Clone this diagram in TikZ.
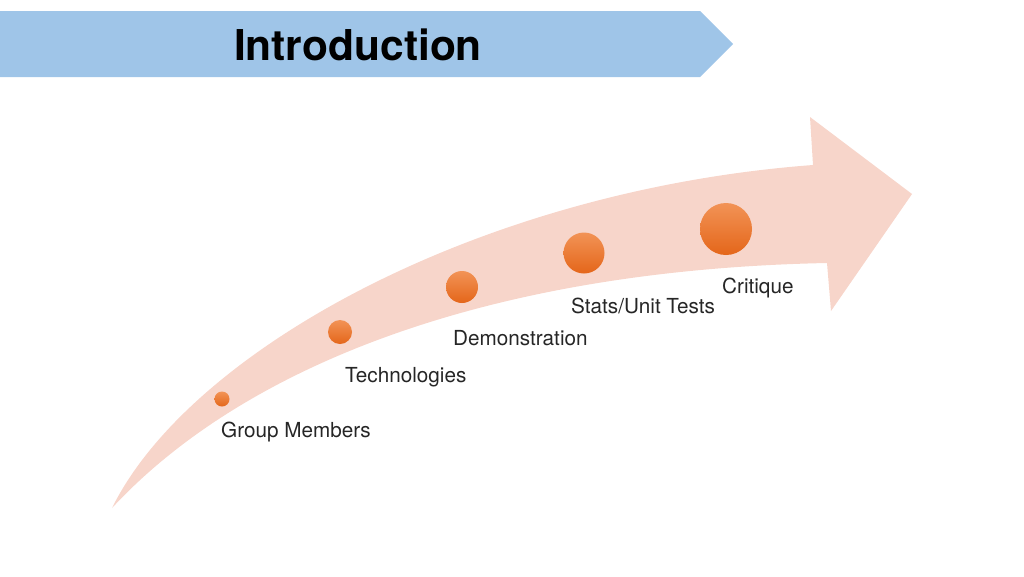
\documentclass[tikz,border=0pt]{standalone}
\usepackage{fontspec}
\setmainfont{TeX Gyre Heros}
\usepackage{xcolor}
\usetikzlibrary{positioning}
\definecolor{bannerblue}{HTML}{9FC5E8}
\definecolor{arrowpink}{HTML}{F7D5CA}
\definecolor{dottop}{HTML}{F29356}
\definecolor{dotbottom}{HTML}{E4661A}
\definecolor{labelgray}{HTML}{262626}

\begin{document}
\begin{tikzpicture}[
  x=1pt, y=-1pt,
  title/.style={font=\fontsize{42.5}{48}\selectfont\bfseries, text=black, inner sep=0pt},
  dot/.style={circle, inner sep=0pt, shading=axis, top color=dottop, bottom color=dotbottom},
  stagelabel/.style={anchor=base west, inner sep=0pt, font=\fontsize{20.7}{24}\selectfont, text=labelgray}
]
  \useasboundingbox (0,0) rectangle (1024,576);
  % banner
  \fill[bannerblue] (0,11) -- (700,11) -- (733,44) -- (700,77) -- (0,77) -- cycle;
  \node[title] (intro) at (358,45) {Introduction};
  % curved arrow
  \fill[arrowpink] (112,508) .. controls (190,350) and (480,190) .. (813,165)
    -- (810,117) -- (912,194) -- (831,311) -- (827,263)
    .. controls (480,270) and (240,370) .. (112,508) -- cycle;
  % stages
  \node[dot, minimum size=15pt] (d1) at (222,399) {};
  \node[dot, minimum size=24pt] (d2) at (340,332) {};
  \node[dot, minimum size=32pt] (d3) at (462,287) {};
  \node[dot, minimum size=41pt] (d4) at (584,253) {};
  \node[dot, minimum size=52pt] (d5) at (726,229) {};
  \node[stagelabel] (l1) at (221,437) {Group Members};
  \node[stagelabel] (l2) at (345,382) {Technologies};
  \node[stagelabel] (l3) at (453,345) {Demonstration};
  \node[stagelabel] (l4) at (571,313) {Stats/Unit Tests};
  \node[stagelabel] (l5) at (722,293) {Critique};
\end{tikzpicture}
\end{document}
